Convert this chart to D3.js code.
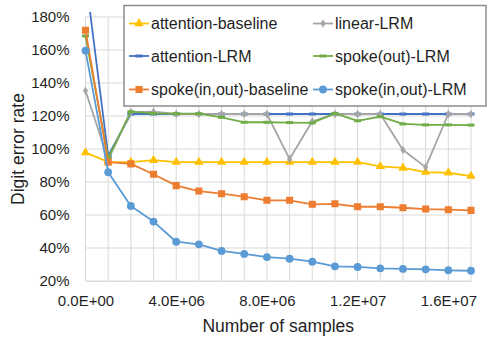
<!DOCTYPE html>
<html>
<head>
<meta charset="utf-8">
<script src="https://cdn.jsdelivr.net/npm/d3@7"></script>
<style>
    body { margin: 0; background: #fff; }
    text { font-family: "Liberation Sans", Arial, sans-serif; fill: #1f1f1f; }
</style>
</head>
<body>
<svg id="chart" width="489" height="339"></svg>
<script>
// Data
const samples = [0, 1e6, 2e6, 3e6, 4e6, 5e6, 6e6, 7e6, 8e6, 9e6, 1e7, 1.1e7, 1.2e7, 1.3e7, 1.4e7, 1.5e7, 1.6e7, 1.7e7];

const attentionBaseline = [0.978, 0.922, 0.921, 0.932, 0.921, 0.921, 0.921, 0.921, 0.921, 0.921, 0.921, 0.921, 0.921, 0.895, 0.885, 0.86, 0.856, 0.836];
const linearLRM = [1.353, 0.935, 1.224, 1.226, 1.212, 1.212, 1.212, 1.212, 1.212, 0.939, 1.168, 1.212, 1.212, 1.212, 0.994, 0.89, 1.212, 1.212];
const attentionLRM = [2.05, 0.96, 1.212, 1.212, 1.212, 1.212, 1.212, 1.212, 1.212, 1.212, 1.212, 1.212, 1.212, 1.212, 1.212, 1.212, 1.212, 1.212];
const spokeOutLRM = [1.685, 0.945, 1.226, 1.216, 1.214, 1.214, 1.192, 1.162, 1.162, 1.16, 1.158, 1.216, 1.171, 1.196, 1.152, 1.146, 1.146, 1.145];
const spokeInOutBaseline = [1.72, 0.92, 0.91, 0.847, 0.778, 0.745, 0.729, 0.711, 0.689, 0.689, 0.665, 0.668, 0.65, 0.65, 0.644, 0.636, 0.632, 0.628];
const spokeInOutLRM = [1.596, 0.859, 0.655, 0.56, 0.438, 0.422, 0.382, 0.364, 0.345, 0.335, 0.317, 0.289, 0.285, 0.277, 0.273, 0.271, 0.265, 0.262];

const yTicks = [0.2, 0.4, 0.6, 0.8, 1.0, 1.2, 1.4, 1.6, 1.8];
const xLabelTicks = [0, 4e6, 8e6, 1.2e7, 1.6e7];

// series in drawing order, legend slot = [col,row]
const series = [
    { name: "attention-baseline", values: attentionBaseline, color: "#FFC000", marker: "triangle", slot: [0, 0] },
    { name: "attention-LRM", values: attentionLRM, color: "#4472C4", marker: "dash", slot: [0, 1] },
    { name: "linear-LRM", values: linearLRM, color: "#A5A5A5", marker: "diamond", slot: [1, 0] },
    { name: "spoke(out)-LRM", values: spokeOutLRM, color: "#70AD47", marker: "dash", slot: [1, 1] },
    { name: "spoke(in,out)-baseline", values: spokeInOutBaseline, color: "#ED7D31", marker: "square", slot: [0, 2] },
    { name: "spoke(in,out)-LRM", values: spokeInOutLRM, color: "#5B9BD5", marker: "circle", slot: [1, 2] }
];

const svg = d3.select("#chart");

const plot = { left: 85.5, right: 471, top: 17, bottom: 281 };

const x = d3.scaleLinear().domain([0, 1.7e7]).range([plot.left, plot.right]);
const y = d3.scaleLinear().domain([0.2, 1.8]).range([plot.bottom, plot.top]);

// Gridlines
const grid = svg.append("g");
grid.selectAll("line.v")
    .data(samples)
    .enter()
    .append("line")
    .attr("x1", d => x(d)).attr("x2", d => x(d))
    .attr("y1", plot.top).attr("y2", plot.bottom)
    .style("stroke", "#D9D9D9")
    .style("stroke-width", 1);

grid.selectAll("line.h")
    .data(yTicks)
    .enter()
    .append("line")
    .attr("x1", plot.left).attr("x2", plot.right)
    .attr("y1", d => y(d)).attr("y2", d => y(d))
    .style("stroke", "#D9D9D9")
    .style("stroke-width", 1);

// Axes (labels only, Excel-like)
const yAxis = svg.append("g")
    .attr("transform", `translate(${plot.left},0)`)
    .call(d3.axisLeft(y).tickValues(yTicks).tickSize(0).tickPadding(16).tickFormat(d3.format(".0%")));
yAxis.select(".domain").remove();
yAxis.selectAll("text").style("font-size", "15px").style("fill", "#1f1f1f");

function sci(d) {
    if (d === 0) return "0.0E+00";
    const e = Math.floor(Math.log10(d));
    const m = d / Math.pow(10, e);
    return m.toFixed(1) + "E+" + String(e).padStart(2, "0");
}

const xAxis = svg.append("g")
    .attr("transform", `translate(0,${plot.bottom})`)
    .call(d3.axisBottom(x).tickValues(xLabelTicks).tickSize(0).tickPadding(14).tickFormat(sci));
xAxis.select(".domain").style("stroke", "#D9D9D9");
xAxis.selectAll("text").style("font-size", "15px").style("fill", "#1f1f1f");

// Axis titles
svg.append("text")
    .attr("x", (plot.left + plot.right) / 2)
    .attr("y", 332)
    .attr("text-anchor", "middle")
    .style("font-size", "17.5px")
    .text("Number of samples");

svg.append("text")
    .attr("transform", `translate(24,${(plot.top + plot.bottom) / 2}) rotate(-90)`)
    .attr("text-anchor", "middle")
    .style("font-size", "17.5px")
    .text("Digit error rate");

// Clip for off-scale points
svg.append("clipPath")
    .attr("id", "plotClip")
    .append("rect")
    .attr("x", plot.left - 8)
    .attr("y", 12)
    .attr("width", plot.right - plot.left + 16)
    .attr("height", plot.bottom - 12 + 8);

const line = d3.line()
    .x((d, i) => x(samples[i]))
    .y(d => y(d));

function drawMarker(sel, s, cx, cy) {
    if (s.marker === "dash") {
        sel.append("rect")
            .attr("x", cx - 3.5).attr("y", cy - 1.5)
            .attr("width", 7).attr("height", 3)
            .attr("fill", s.color);
        return;
    }
    const types = {
        triangle: [d3.symbolTriangle, 38],
        square: [d3.symbolSquare, 50],
        circle: [d3.symbolCircle, 48],
        diamond: [d3.symbolDiamond, 22]
    };
    const [type, size] = types[s.marker];
    sel.append("path")
        .attr("d", d3.symbol().type(type).size(size)())
        .attr("transform", `translate(${cx},${cy})`)
        .attr("fill", s.color);
}

const marks = svg.append("g").attr("clip-path", "url(#plotClip)");

series.forEach(s => {
    const g = marks.append("g");
    g.append("path")
        .datum(s.values)
        .attr("d", line)
        .attr("fill", "none")
        .attr("stroke", s.color)
        .attr("stroke-width", 1.8)
        .attr("stroke-linejoin", "round");
    s.values.forEach((v, i) => {
        if (v <= 1.8) drawMarker(g, s, x(samples[i]), y(v));
    });
});

// Legend
const legend = svg.append("g");
legend.append("rect")
    .attr("x", 124).attr("y", 5.5)
    .attr("width", 362).attr("height", 100.5)
    .attr("fill", "#fff")
    .attr("stroke", "#8C8C8C")
    .attr("stroke-width", 1.5);

const colX = [129, 313];
const rowY = [23.5, 56, 89.5];

series.forEach(s => {
    const lx = colX[s.slot[0]];
    const ly = rowY[s.slot[1]];
    const item = legend.append("g");
    item.append("line")
        .attr("x1", lx).attr("x2", lx + 20)
        .attr("y1", ly).attr("y2", ly)
        .attr("stroke", s.color)
        .attr("stroke-width", 1.8);
    drawMarker(item, s, lx + 10, ly);
    item.append("text")
        .attr("x", lx + 22)
        .attr("y", ly)
        .attr("dy", "0.35em")
        .style("font-size", "16px")
        .style("fill", "#1f1f1f")
        .text(s.name);
});
</script>
</body>
</html>
